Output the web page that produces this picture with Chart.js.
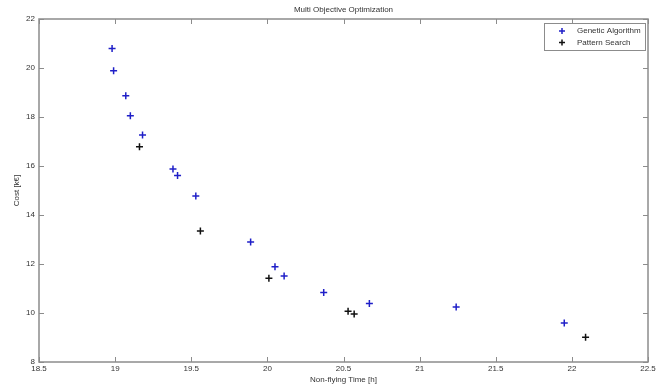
<!DOCTYPE html>
<html>
<head>
<meta charset="utf-8">
<script src="https://cdn.jsdelivr.net/npm/chart.js@4/dist/chart.umd.min.js"></script>
<style>
  body { margin: 0; background: #fff; }
</style>
</head>
<body>
<canvas id="chart" width="670" height="390"></canvas>
<script>
const gaTime = [18.98, 18.99, 19.07, 19.10, 19.18, 19.38, 19.41, 19.53, 19.89, 20.05, 20.11, 20.37, 20.67, 21.24, 21.95]
const gaCost = [20.80, 19.89, 18.87, 18.05, 17.27, 15.88, 15.61, 14.78, 12.90, 11.89, 11.51, 10.84, 10.39, 10.24, 9.59]
const psTime = [19.16, 19.56, 20.01, 20.53, 20.57, 22.09]
const psCost = [16.79, 13.35, 11.42, 10.07, 9.96, 9.01]

const seriesNames = ['Genetic Algorithm', 'Pattern Search']
const seriesColors = ['#1f1fc8', '#111111']
const xTicks = [18.5, 19, 19.5, 20, 20.5, 21, 21.5, 22, 22.5]
const yTicks = [8, 10, 12, 14, 16, 18, 20, 22]

const toPoints = (xs, ys) => xs.map((x, i) => ({ x: x, y: ys[i] }))

const font = 'Liberation Sans, Arial, sans-serif'
const textColor = '#333'

// matlab style box, inner ticks, title and legend
const matlabFrame = {
  id: 'matlabFrame',
  afterDraw(chart) {
    const ctx = chart.ctx
    const a = chart.chartArea
    const xs = chart.scales.x
    const ys = chart.scales.y
    ctx.save()
    ctx.strokeStyle = '#8c8c8c'
    ctx.lineWidth = 1.5
    ctx.strokeRect(a.left, a.top, a.right - a.left, a.bottom - a.top)

    ctx.lineWidth = 1
    ctx.beginPath()
    xTicks.forEach(v => {
      const px = Math.round(xs.getPixelForValue(v)) + 0.5
      ctx.moveTo(px, a.bottom); ctx.lineTo(px, a.bottom - 5)
      ctx.moveTo(px, a.top); ctx.lineTo(px, a.top + 5)
    })
    yTicks.forEach(v => {
      const py = Math.round(ys.getPixelForValue(v)) + 0.5
      ctx.moveTo(a.left, py); ctx.lineTo(a.left + 5, py)
      ctx.moveTo(a.right, py); ctx.lineTo(a.right - 5, py)
    })
    ctx.stroke()

    // title
    ctx.fillStyle = textColor
    ctx.font = '8px ' + font
    ctx.textAlign = 'center'
    ctx.textBaseline = 'middle'
    ctx.fillText('Multi Objective Optimization', (a.left + a.right) / 2, 10)

    // legend box
    const lx = 544, ly = 23, lw = 101, lh = 27
    ctx.fillStyle = '#fff'
    ctx.fillRect(lx, ly, lw, lh)
    ctx.strokeStyle = '#8c8c8c'
    ctx.lineWidth = 1
    ctx.strokeRect(lx + 0.5, ly + 0.5, lw, lh)
    ctx.textAlign = 'left'
    seriesNames.forEach((name, i) => {
      const cy = ly + 8 + i * 11.5
      ctx.strokeStyle = seriesColors[i]
      ctx.lineWidth = 1.5
      ctx.beginPath()
      ctx.moveTo(562 - 3, cy); ctx.lineTo(562 + 3, cy)
      ctx.moveTo(562, cy - 3); ctx.lineTo(562, cy + 3)
      ctx.stroke()
      ctx.fillStyle = textColor
      ctx.fillText(name, 577, cy)
    })
    ctx.restore()
  }
}

new Chart(document.getElementById('chart'), {
  type: 'scatter',
  data: {
    datasets: [{
      label: seriesNames[0],
      data: toPoints(gaTime, gaCost),
      pointStyle: 'cross',
      radius: 3.5,
      borderWidth: 1.5,
      borderColor: seriesColors[0],
      backgroundColor: seriesColors[0]
    }, {
      label: seriesNames[1],
      data: toPoints(psTime, psCost),
      pointStyle: 'cross',
      radius: 3.5,
      borderWidth: 1.5,
      borderColor: seriesColors[1],
      backgroundColor: seriesColors[1]
    }]
  },
  options: {
    responsive: false,
    animation: false,
    layout: { padding: { top: 19, right: 22, left: 0, bottom: 0 } },
    plugins: {
      legend: { display: false },
      tooltip: { enabled: false }
    },
    scales: {
      x: {
        type: 'linear',
        min: 18.5,
        max: 22.5,
        afterFit: s => { s.height = 28 },
        afterBuildTicks: s => { s.ticks = xTicks.map(v => ({ value: v })) },
        grid: { display: false, drawTicks: false },
        border: { display: false },
        ticks: {
          padding: 2,
          color: textColor,
          font: { family: font, size: 8 },
          maxRotation: 0,
          callback: v => String(v)
        },
        title: {
          display: true,
          text: 'Non-flying Time [h]',
          color: textColor,
          font: { family: font, size: 8 },
          padding: { top: 0, bottom: 5 }
        }
      },
      y: {
        type: 'linear',
        min: 8,
        max: 22,
        afterFit: s => { s.width = 39 },
        afterBuildTicks: s => { s.ticks = yTicks.map(v => ({ value: v })) },
        grid: { display: false, drawTicks: false },
        border: { display: false },
        ticks: { padding: 4, color: textColor, font: { family: font, size: 8 }, callback: v => String(v) },
        title: {
          display: true,
          text: 'Cost [k€]',
          color: textColor,
          font: { family: font, size: 8 },
          padding: { top: 12, bottom: 0 }
        }
      }
    }
  },
  plugins: [matlabFrame]
})
</script>
</body>
</html>
